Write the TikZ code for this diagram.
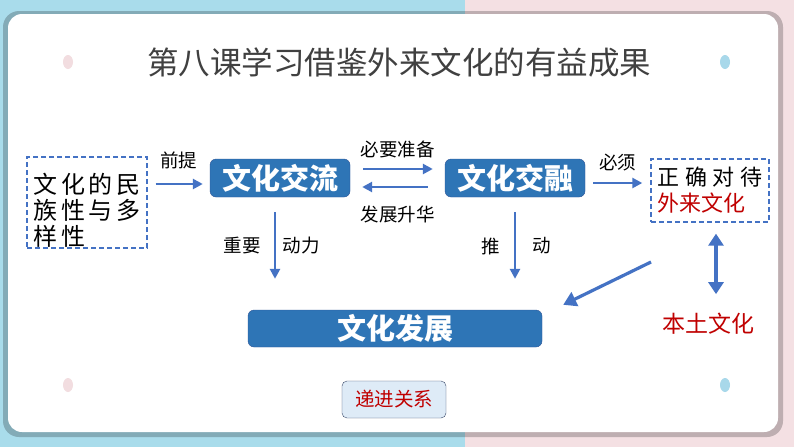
\documentclass[tikz,border=0pt]{standalone}
\usepackage{fontspec}
\setmainfont{Noto Sans CJK SC}
\newfontfamily\widefont[LetterSpace=15]{Noto Sans CJK SC}
\newfontfamily\openfont[LetterSpace=25]{Noto Sans CJK SC}
\usetikzlibrary{positioning}
\usetikzlibrary{arrows.meta}

\definecolor{sideblue}{HTML}{A9DCEB}
\definecolor{sidepink}{HTML}{F4E0E3}
\definecolor{dotpink}{HTML}{F2DDE0}
\definecolor{dotblue}{HTML}{A8D8EA}
\definecolor{keyblue}{HTML}{2E75B6}
\definecolor{keyline}{HTML}{2F5597}
\definecolor{flowblue}{HTML}{4472C4}
\definecolor{notered}{HTML}{C00000}
\definecolor{titlegray}{HTML}{404040}
\definecolor{paleblue}{HTML}{DEEBF7}
\definecolor{navyline}{HTML}{3B4A6B}

\begin{document}
\begin{tikzpicture}
    [
    x=1pt, y=-1pt,
    node distance=235pt and 235pt,
    on grid,
    every node/.style={inner sep=0pt},
    keybox/.style={fill=keyblue, draw=keyline, rounded corners=6pt, text=white,
        font=\fontsize{29}{32}\selectfont\bfseries},
    dashbox/.style={draw=flowblue, dashed, line width=1.4pt, dash pattern=on 5pt off 3pt},
    flow/.style={draw=flowblue, line width=2.6pt, -{Triangle[length=10pt,width=10pt]}},
    twoway/.style={draw=flowblue, line width=3.2pt, {Triangle[length=12pt,width=15pt]}-{Triangle[length=12pt,width=15pt]}},
    tag/.style={font=\fontsize{18.5}{21}\selectfont},
    ]

    % slide background and card
    \fill[sideblue] (0,0) rectangle (465,447);
    \fill[sidepink] (465,0) rectangle (794,447);
    \fill[black, opacity=0.22, rounded corners=16pt] (3,11) rectangle (783,437);
    \fill[white, rounded corners=14pt] (8,14) rectangle (778,432);
    \fill[dotpink] (68,62) ellipse (5 and 7);
    \fill[dotblue] (725,62) ellipse (5 and 7);
    \fill[dotpink] (68,385) ellipse (5 and 7);
    \fill[dotblue] (725,385) ellipse (5 and 7);

    \node[text=titlegray, font=\fontsize{31.5}{34}\selectfont] (title) at (399,62) {第八课学习借鉴外来文化的有益成果};

    % main chain
    \node[keybox, minimum width=140pt, minimum height=38pt] (exchange) at (280,178) {文化交流};
    \node[keybox, minimum width=140pt, minimum height=38pt, right = of exchange] (fusion) {文化交融};
    \node[dashbox, minimum width=120pt, minimum height=91pt, align=left,
        font=\widefont\fontsize{24}{26}\selectfont] (diversity) at (87,202.5)
        {\rule{0pt}{35pt}文化的民\\族性与多\\样性};
    \node[dashbox, minimum width=118pt, minimum height=63pt, align=left,
        font=\fontsize{22}{26}\selectfont] (attitude) at (710,190.5)
        {{\openfont 正确对待}\\\textcolor{notered}{外来文化}\hspace*{17pt}};
    \node[keybox, minimum width=294pt, minimum height=37pt] (development) at (395,328.5) {文化发展};
    \node[text=notered, font=\fontsize{23}{26}\selectfont] (native) at (708,324) {本土文化};
    \node[fill=paleblue, draw=navyline, rounded corners=5pt, text=notered,
        minimum width=104pt, minimum height=37pt, font=\fontsize{19.5}{22}\selectfont] (relation) at (394,399.5) {递进关系};
    \coordinate (outside) at (651,262);

    % connectors
    \draw[flow, shorten <=8pt, shorten >=7pt] ([yshift=-6pt]exchange.west -| diversity.east) -- node[tag, above=14pt] {前提} ([yshift=-6pt]exchange.west);
    \draw[flow, shorten <=13pt, shorten >=12pt] ([yshift=9pt]exchange.east) -- node[tag, above=10pt] {必要准备} ([yshift=9pt]fusion.west);
    \draw[flow, shorten <=17pt, shorten >=12pt] ([yshift=-9pt]fusion.west) -- node[tag, below=18pt] {发展升华} ([yshift=-9pt]exchange.east);
    \draw[flow, shorten <=8pt, shorten >=8pt] ([yshift=-5pt]fusion.east) -- node[tag, above=11pt] {必须} ([yshift=-5pt]fusion.east -| attitude.west);
    \draw[flow, shorten <=15pt, shorten >=31pt] ([xshift=-5pt]exchange.south) -- node[tag, left=13pt, yshift=7.5pt] {重要} node[tag, right=6.5pt, yshift=7.5pt] {动力} ([xshift=-5pt]exchange.south |- development.north);
    \draw[flow, shorten <=15pt, shorten >=31pt] (fusion.south) -- node[tag, left=13.5pt, yshift=7.5pt] {推} node[tag, right=16.5pt, yshift=7.5pt] {动} (fusion.south |- development.north);
    \draw[twoway, shorten <=11pt, shorten >=19pt] ([xshift=6pt]attitude.south) -- ([xshift=6pt]attitude.south |- native.north);
    \draw[flow, line width=3.2pt, -{Triangle[length=13pt,width=15pt]}] (outside) -- ([xshift=21pt,yshift=5pt]development.north east);
\end{tikzpicture}
\end{document}
